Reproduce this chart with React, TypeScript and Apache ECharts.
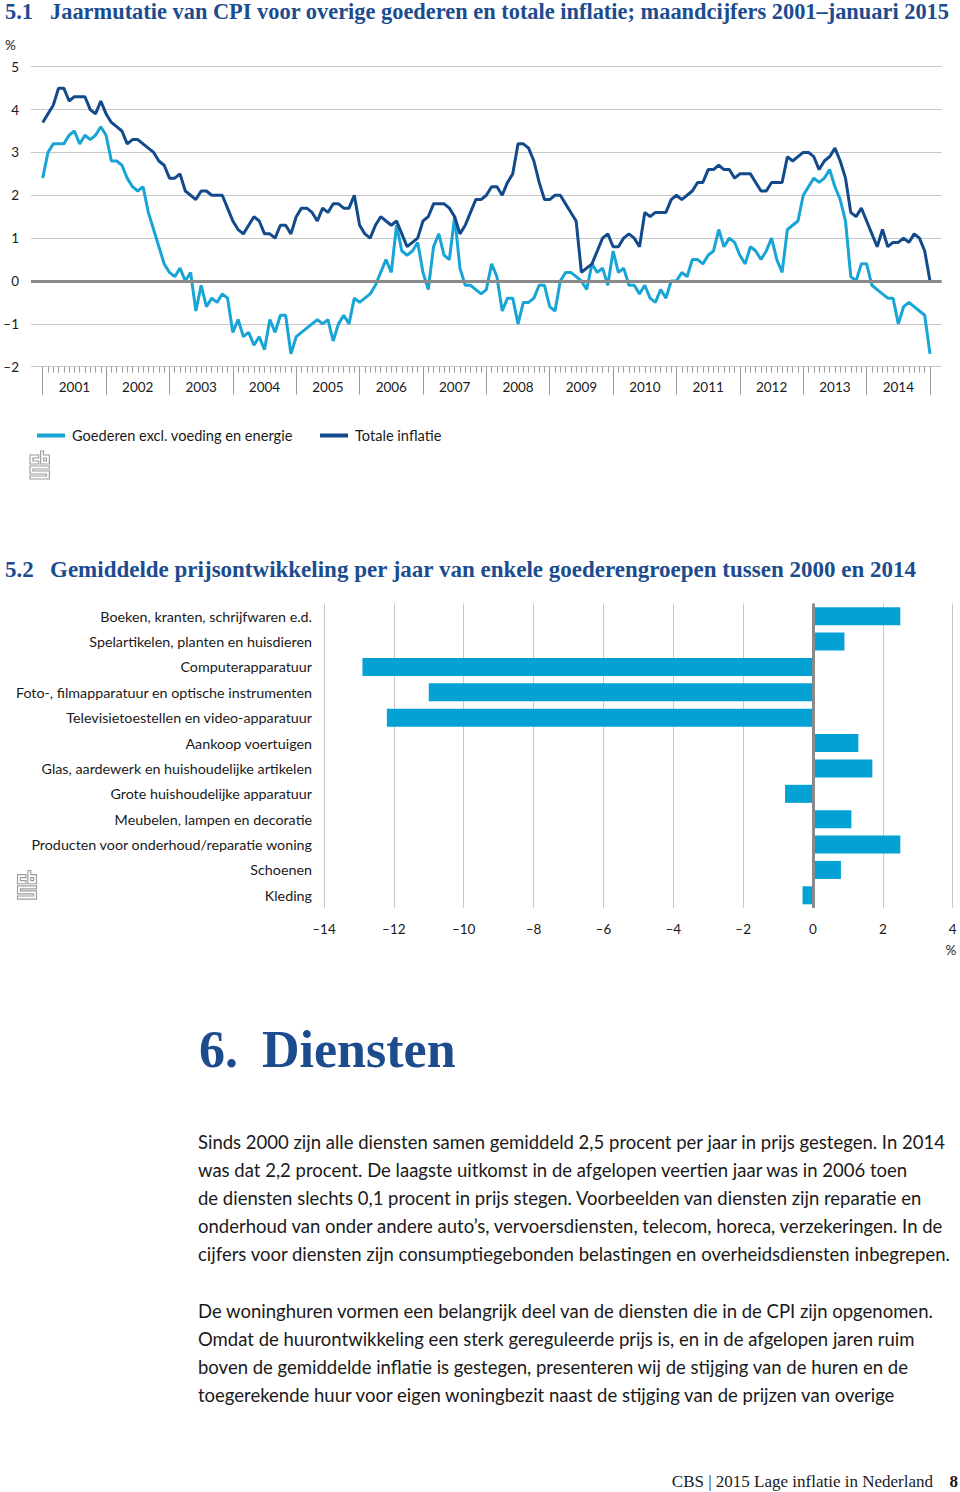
import React, { useEffect, useRef } from 'react';
import * as echarts from 'echarts';

// ---------- DATA ----------
const years = [2001, 2002, 2003, 2004, 2005, 2006, 2007, 2008, 2009, 2010, 2011, 2012, 2013, 2014];
const monthCategories: string[] = [];
years.forEach((y) => {
  for (let m = 1; m <= 12; m++) monthCategories.push(`${y}-${m < 10 ? '0' + m : m}`);
});
monthCategories.push('2015-01');

// Goederen excl. voeding en energie (jaarmutatie %, jan 2001 - jan 2015)
const goederenExcl = [
  2.4, 3.0, 3.2, 3.2, 3.2, 3.4, 3.5, 3.2, 3.4, 3.3, 3.4, 3.6,
  3.4, 2.8, 2.8, 2.7, 2.4, 2.2, 2.1, 2.2, 1.6, 1.2, 0.8, 0.4,
  0.2, 0.1, 0.3, 0.0, 0.2, -0.7, -0.1, -0.6, -0.4, -0.5, -0.3, -0.4,
  -1.2, -0.9, -1.3, -1.2, -1.5, -1.3, -1.6, -0.9, -1.2, -0.8, -0.8, -1.7,
  -1.3, -1.2, -1.1, -1.0, -0.9, -1.0, -0.9, -1.4, -1.0, -0.8, -1.0, -0.4,
  -0.5, -0.4, -0.3, -0.1, 0.2, 0.5, 0.2, 1.3, 0.7, 0.6, 0.7, 0.9,
  0.2, -0.2, 0.8, 1.1, 0.6, 0.5, 1.5, 0.3, -0.1, -0.1, -0.2, -0.3,
  -0.2, 0.4, 0.1, -0.7, -0.4, -0.4, -1.0, -0.5, -0.5, -0.4, -0.1, -0.1,
  -0.6, -0.7, 0.0, 0.2, 0.2, 0.1, 0.0, -0.2, 0.4, 0.2, 0.3, -0.1,
  0.7, 0.2, 0.3, -0.1, -0.1, -0.3, -0.1, -0.4, -0.5, -0.2, -0.4, 0.0,
  0.0, 0.2, 0.1, 0.5, 0.5, 0.4, 0.6, 0.7, 1.2, 0.8, 1.0, 0.9,
  0.6, 0.4, 0.8, 0.7, 0.5, 0.7, 1.0, 0.5, 0.2, 1.2, 1.3, 1.4,
  2.0, 2.2, 2.4, 2.3, 2.4, 2.6, 2.2, 1.9, 1.4, 0.1, 0.0, 0.4,
  0.4, -0.1, -0.2, -0.3, -0.4, -0.4, -1.0, -0.6, -0.5, -0.6, -0.7, -0.8,
  -1.7,
];

// Totale inflatie (jaarmutatie CPI %, jan 2001 - jan 2015)
const totaleInflatie = [
  3.7, 3.9, 4.1, 4.5, 4.5, 4.2, 4.3, 4.3, 4.3, 4.0, 3.9, 4.2,
  3.9, 3.7, 3.6, 3.5, 3.2, 3.3, 3.3, 3.2, 3.1, 3.0, 2.8, 2.7,
  2.4, 2.4, 2.5, 2.1, 2.0, 1.9, 2.1, 2.1, 2.0, 2.0, 2.0, 1.7,
  1.4, 1.2, 1.1, 1.3, 1.5, 1.4, 1.1, 1.1, 1.0, 1.3, 1.3, 1.1,
  1.5, 1.7, 1.7, 1.6, 1.4, 1.7, 1.6, 1.8, 1.8, 1.7, 1.7, 2.0,
  1.3, 1.1, 1.0, 1.3, 1.5, 1.4, 1.3, 1.4, 1.1, 0.8, 0.9, 1.0,
  1.4, 1.5, 1.8, 1.8, 1.8, 1.7, 1.5, 1.1, 1.3, 1.6, 1.9, 1.9,
  2.0, 2.2, 2.2, 2.0, 2.3, 2.5, 3.2, 3.2, 3.1, 2.8, 2.3, 1.9,
  1.9, 2.0, 2.0, 1.8, 1.6, 1.4, 0.2, 0.3, 0.4, 0.7, 1.0, 1.1,
  0.8, 0.8, 1.0, 1.1, 1.0, 0.8, 1.6, 1.5, 1.6, 1.6, 1.6, 1.9,
  2.0, 1.9, 2.0, 2.1, 2.3, 2.3, 2.6, 2.6, 2.7, 2.6, 2.6, 2.4,
  2.5, 2.5, 2.5, 2.3, 2.1, 2.1, 2.3, 2.3, 2.3, 2.9, 2.8, 2.9,
  3.0, 3.0, 2.9, 2.6, 2.8, 2.9, 3.1, 2.8, 2.4, 1.6, 1.5, 1.7,
  1.4, 1.1, 0.8, 1.2, 0.8, 0.9, 0.9, 1.0, 0.9, 1.1, 1.0, 0.7,
  0.0,
];

const lineYTicks = [-2, -1, 0, 1, 2, 3, 4, 5];

const barCategories = [
  'Boeken, kranten, schrijfwaren e.d.',
  'Spelartikelen, planten en huisdieren',
  'Computerapparatuur',
  'Foto-, filmapparatuur en optische instrumenten',
  'Televisietoestellen en video-apparatuur',
  'Aankoop voertuigen',
  'Glas, aardewerk en huishoudelijke artikelen',
  'Grote huishoudelijke apparatuur',
  'Meubelen, lampen en decoratie',
  'Producten voor onderhoud/reparatie woning',
  'Schoenen',
  'Kleding',
];
const barValues = [2.5, 0.9, -12.9, -11.0, -12.2, 1.3, 1.7, -0.8, 1.1, 2.5, 0.8, -0.3];

const title1Num = '5.1';
const title1 = 'Jaarmutatie van CPI voor overige goederen en totale inflatie; maandcijfers 2001–januari 2015';
const title2Num = '5.2';
const title2 = 'Gemiddelde prijsontwikkeling per jaar van enkele goederengroepen tussen 2000 en 2014';
const headingNum = '6.';
const heading = 'Diensten';
const paragraph1 = [
  'Sinds 2000 zijn alle diensten samen gemiddeld 2,5 procent per jaar in prijs gestegen. In 2014',
  'was dat 2,2 procent. De laagste uitkomst in de afgelopen veertien jaar was in 2006 toen',
  'de diensten slechts 0,1 procent in prijs stegen. Voorbeelden van diensten zijn reparatie en',
  'onderhoud van onder andere auto’s, vervoersdiensten, telecom, horeca, verzekeringen. In de',
  'cijfers voor diensten zijn consumptiegebonden belastingen en overheidsdiensten inbegrepen.',
];
const paragraph2 = [
  'De woninghuren vormen een belangrijk deel van de diensten die in de CPI zijn opgenomen.',
  'Omdat de huurontwikkeling een sterk gereguleerde prijs is, en in de afgelopen jaren ruim',
  'boven de gemiddelde inflatie is gestegen, presenteren wij de stijging van de huren en de',
  'toegerekende huur voor eigen woningbezit naast de stijging van de prijzen van overige',
];
const footerText = 'CBS | 2015 Lage inflatie in Nederland';
const footerPage = '8';

// ---------- STYLE ----------
const LIGHT = '#18a5d6';
const DARK = '#124a8c';
const BAR = '#04a2d4';
const TITLE = '#1c4c8e';
const GRID = '#c8c8c8';
const ZERO = '#8a8a8a';
const TEXT = '#1a1a1a';
const SANS = 'Lato, "Noto Sans", sans-serif';
const SERIF = '"Liberation Serif", "DejaVu Serif", serif';

const LOGO_D =
  'M9 4 H0 V13 H9 V10 H3 V7 H9 Z ' +
  'M11 0 H14 V4 H20 V13 H11 Z M14 7 H17 V10 H14 Z ' +
  'M0 15 H20 V18 H3 V20 H20 V28 H0 V25 H17 V23 H0 Z';

let logoRegistered = false;
function registerLogo() {
  if (logoRegistered) return;
  echarts.graphic.registerShape('cbslogo', echarts.graphic.extendPath(LOGO_D, {}) as any);
  logoRegistered = true;
}

const fmtNeg = (v: number) => (v < 0 ? '–' + Math.abs(v) : String(v));

function txt(
  x: number,
  y: number,
  text: string,
  o: { size: number; family?: string; weight?: string; fill?: string; align?: string }
) {
  return {
    type: 'text',
    x,
    y,
    silent: true,
    style: {
      text,
      fontSize: o.size,
      fontFamily: o.family || SANS,
      fontWeight: o.weight || 'normal',
      fill: o.fill || TEXT,
      textAlign: o.align || 'left',
      align: o.align || 'left',
      textVerticalAlign: 'middle',
      verticalAlign: 'middle',
    },
  };
}

export default function App() {
  const ref = useRef<HTMLDivElement>(null);

  useEffect(() => {
    if (!ref.current) return;
    registerLogo();
    const chart = echarts.init(ref.current, undefined, { renderer: 'svg' });

    const graphics: any[] = [
      txt(5, 11.5, title1Num, { size: 22.4, family: SERIF, weight: 'bold', fill: TITLE }),
      txt(50, 11.5, title1, { size: 22.4, family: SERIF, weight: 'bold', fill: TITLE }),
      txt(5, 45, '%', { size: 13.5 }),
      txt(5, 569, title2Num, { size: 23, family: SERIF, weight: 'bold', fill: TITLE }),
      txt(50, 569, title2, { size: 23, family: SERIF, weight: 'bold', fill: TITLE }),
      txt(951, 950, '%', { size: 13.5, align: 'center' }),
      txt(199, 1049, headingNum, { size: 52, family: SERIF, weight: 'bold', fill: TITLE }),
      txt(262, 1049, heading, { size: 52, family: SERIF, weight: 'bold', fill: TITLE }),
      txt(933, 1481, footerText, { size: 17, family: SERIF, align: 'right' }),
      txt(958, 1481, footerPage, { size: 17, family: SERIF, weight: 'bold', align: 'right' }),
      {
        type: 'cbslogo',
        x: 30,
        y: 451,
        scaleX: 0.97,
        scaleY: 1.0,
        silent: true,
        style: { fill: 'none', stroke: '#9c9c9c', lineWidth: 1.2 },
      },
      {
        type: 'cbslogo',
        x: 17.5,
        y: 870.5,
        scaleX: 0.95,
        scaleY: 1.02,
        silent: true,
        style: { fill: 'none', stroke: '#9c9c9c', lineWidth: 1.2 },
      },
    ];
    const p1Y = [1142, 1170, 1198, 1226, 1254];
    paragraph1.forEach((line, i) => graphics.push(txt(198, p1Y[i], line, { size: 18.5 })));
    const p2Y = [1311, 1339, 1367, 1395];
    paragraph2.forEach((line, i) => graphics.push(txt(198, p2Y[i], line, { size: 18.5 })));

    const legendText = { fontSize: 14.6, color: TEXT, padding: [0, 0, 0, 2] };

    const option: any = {
      animation: false,
      textStyle: { fontFamily: SANS },
      grid: [
        { left: 31, top: 66.7, width: 910.7, height: 300 },
        { left: 42.7, top: 66.7, width: 887.3, height: 300 },
        { left: 324, top: 603.5, width: 628.7, height: 304.5 },
      ],
      legend: [
        {
          left: 32,
          top: 423,
          selectedMode: false,
          data: ['Goederen excl. voeding en energie'],
          icon: 'rect',
          itemWidth: 28,
          itemHeight: 4,
          textStyle: legendText,
        },
        {
          left: 315,
          top: 423,
          selectedMode: false,
          data: ['Totale inflatie'],
          icon: 'rect',
          itemWidth: 28,
          itemHeight: 4,
          textStyle: legendText,
        },
      ],
      xAxis: [
        { gridIndex: 0, type: 'value', show: false, min: 0, max: 1 },
        {
          gridIndex: 1,
          type: 'category',
          data: monthCategories,
          boundaryGap: false,
          position: 'bottom',
          axisLine: { show: false, onZero: false },
          axisTick: { show: true, interval: 0, length: 6, lineStyle: { color: '#9a9a9a', width: 1 } },
          axisLabel: { show: false },
          splitLine: { show: false },
        },
        {
          gridIndex: 1,
          type: 'category',
          data: monthCategories,
          boundaryGap: false,
          position: 'bottom',
          axisLine: { show: false, onZero: false },
          axisTick: {
            show: true,
            interval: (i: number) => i % 12 === 0,
            length: 28,
            lineStyle: { color: '#9a9a9a', width: 1 },
          },
          axisLabel: {
            show: true,
            interval: (i: number) => i % 12 === 6,
            formatter: (v: string) => v.slice(0, 4),
            margin: 13,
            fontSize: 13.5,
            color: TEXT,
          },
          splitLine: { show: false },
        },
        {
          gridIndex: 2,
          type: 'value',
          min: -14,
          max: 4,
          interval: 2,
          axisLine: { show: false, onZero: false },
          axisTick: { show: false },
          splitLine: { show: true, lineStyle: { color: GRID, width: 1 } },
          axisLabel: { formatter: fmtNeg, margin: 14, fontSize: 13.5, color: TEXT },
        },
      ],
      yAxis: [
        {
          gridIndex: 0,
          type: 'value',
          min: lineYTicks[0],
          max: lineYTicks[lineYTicks.length - 1],
          interval: 1,
          axisLine: { show: false, onZero: false },
          axisTick: { show: false },
          splitLine: { show: true, lineStyle: { color: GRID, width: 1 } },
          axisLabel: { formatter: fmtNeg, margin: 12, fontSize: 13.5, color: TEXT },
        },
        { gridIndex: 1, type: 'value', min: -2, max: 5, show: false },
        {
          gridIndex: 2,
          type: 'category',
          data: barCategories,
          inverse: true,
          axisLine: { show: false, onZero: false },
          axisTick: { show: false },
          axisLabel: { margin: 12, fontSize: 14.3, color: TEXT },
        },
      ],
      series: [
        {
          type: 'line',
          xAxisIndex: 0,
          yAxisIndex: 0,
          data: [],
          silent: true,
          markLine: {
            silent: true,
            symbol: 'none',
            label: { show: false },
            lineStyle: { color: ZERO, width: 3, type: 'solid' },
            data: [{ yAxis: 0 }],
          },
        },
        {
          name: 'Goederen excl. voeding en energie',
          type: 'line',
          xAxisIndex: 1,
          yAxisIndex: 1,
          data: goederenExcl,
          showSymbol: false,
          symbol: 'none',
          lineStyle: { color: LIGHT, width: 3 },
          itemStyle: { color: LIGHT },
          z: 3,
        },
        {
          name: 'Totale inflatie',
          type: 'line',
          xAxisIndex: 1,
          yAxisIndex: 1,
          data: totaleInflatie,
          showSymbol: false,
          symbol: 'none',
          lineStyle: { color: DARK, width: 3 },
          itemStyle: { color: DARK },
          z: 4,
        },
        {
          type: 'bar',
          xAxisIndex: 3,
          yAxisIndex: 2,
          data: barValues,
          barWidth: 18,
          itemStyle: { color: BAR },
          markLine: {
            silent: true,
            symbol: 'none',
            label: { show: false },
            lineStyle: { color: ZERO, width: 3, type: 'solid' },
            data: [{ xAxis: 0 }],
          },
        },
      ],
      graphic: graphics,
    };

    chart.setOption(option);
    return () => chart.dispose();
  }, []);

  return (
    <div
      ref={ref}
      style={{ position: 'absolute', left: 0, top: 0, width: 960, height: 1492, background: '#fff' }}
    />
  );
}
